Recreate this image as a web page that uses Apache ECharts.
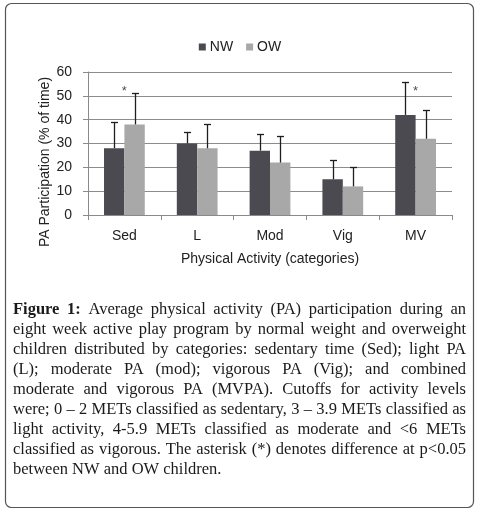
<!DOCTYPE html>
<html>
<head>
<meta charset="utf-8">
<script src="https://cdn.jsdelivr.net/npm/echarts@6.0.0/dist/echarts.min.js"></script>
<style>
    html, body { margin: 0; padding: 0; background: #fff; }
    #main { width: 480px; height: 511px; }
</style>
</head>
<body>
<div id="main"></div>
<script>
// data
var categories = ['Sed', 'L', 'Mod', 'Vig', 'MV'];
var nwValues = [28, 30, 27, 15, 42];
var owValues = [38, 28, 22, 12, 32];
var nwUpper = [39, 35, 34, 23, 56];
var owUpper = [51, 38, 33, 20, 44];
// asterisks (p<0.05)
var starValues = [52, null, null, null, 52];
var yMin = 0, yMax = 60, yStep = 10;

var captionLines = [
    'Figure 1: Average physical activity (PA) participation during an',
    'eight week active play program by normal weight and overweight',
    'children distributed by categories: sedentary time (Sed); light PA',
    '(L); moderate PA (mod); vigorous PA (Vig); and combined',
    'moderate and vigorous PA (MVPA). Cutoffs for activity levels',
    'were; 0 \u2013 2 METs classified as sedentary, 3 \u2013 3.9 METs classified as',
    'light activity, 4-5.9 METs classified as moderate and <6 METs',
    'classified as vigorous. The asterisk (*) denotes difference at p<0.05',
    'between NW and OW children.'
];

var SANS = '"Liberation Sans", Arial, sans-serif';
var SERIF = '"Liberation Serif", "Times New Roman", serif';
var CAP_SIZE = 16.5;

// justified caption, words placed by measured width
var measureCtx = document.createElement('canvas').getContext('2d');
function textWidth(str, bold) {
    measureCtx.font = (bold ? 'bold ' : '') + CAP_SIZE + 'px ' + SERIF;
    return measureCtx.measureText(str).width;
}

function buildCaption(left, right, top, lineGap) {
    var items = [];
    var width = right - left;
    for (var i = 0; i < captionLines.length; i++) {
        var words = captionLines[i].split(' ');
        var isLast = i == captionLines.length - 1;
        var widths = [];
        var total = 0;
        for (var j = 0; j < words.length; j++) {
            var bold = (i == 0 && j < 2);
            widths.push(textWidth(words[j], bold));
            total += widths[j];
        }
        var gap = isLast ? textWidth(' ', false) : (width - total) / (words.length - 1);
        if (gap < 2) gap = 2;
        var x = left;
        for (var j = 0; j < words.length; j++) {
            items.push({
                type: 'text',
                x: x,
                y: top + i * lineGap,
                style: {
                    text: words[j],
                    font: ((i == 0 && j < 2) ? 'bold ' : '') + CAP_SIZE + 'px ' + SERIF,
                    fill: '#1a1a1a',
                    textAlign: 'left',
                    textVerticalAlign: 'middle'
                }
            });
            x += widths[j] + gap;
        }
    }
    return items;
}

// error bar (upper whisker only)
function errorBar(name, values, upper, side) {
    var data = [];
    for (var i = 0; i < categories.length; i++) {
        data.push([i, values[i], upper[i]]);
    }
    return {
        name: name + ' SD',
        type: 'custom',
        z: 10,
        data: data,
        renderItem: function (params, api) {
            var idx = api.value(0);
            var base = api.coord([idx, api.value(1)]);
            var top = api.coord([idx, api.value(2)]);
            var band = api.size([1, 0])[0];
            var cx = Math.round(base[0] + side * band * 0.14) + 0.5;
            var ty = Math.round(top[1]) + 0.5;
            var st = {stroke: '#1e1e1e', lineWidth: 1.3};
            return {
                type: 'group',
                children: [
                    {type: 'line', shape: {x1: cx, y1: base[1], x2: cx, y2: ty}, style: st},
                    {type: 'line', shape: {x1: cx - 3.5, y1: ty, x2: cx + 3.5, y2: ty}, style: st}
                ]
            };
        }
    };
}

var myChart = echarts.init(document.getElementById('main'));

var option = {
    animation: false,
    backgroundColor: '#fff',
    color: ['#4b4a50', '#a8a8a8'],
    legend: {
        data: ['NW', 'OW'],
        left: 'center',
        top: 35,
        itemWidth: 7,
        itemHeight: 7,
        itemGap: 13,
        icon: 'rect',
        textStyle: {fontFamily: SANS, fontSize: 14, color: '#222', padding: [0, 0, 0, -1]}
    },
    grid: {
        left: 88,
        right: 28,
        top: 72,
        bottom: 296,
        containLabel: false,
        outerBoundsMode: 'none'
    },
    xAxis: {
        type: 'category',
        data: categories,
        name: 'Physical Activity (categories)',
        nameLocation: 'middle',
        nameGap: 37,
        nameTextStyle: {fontFamily: SANS, fontSize: 14, color: '#222'},
        axisLine: {lineStyle: {color: '#8a8a8a', width: 1}},
        axisTick: {show: true, length: 5, lineStyle: {color: '#8a8a8a'}},
        axisLabel: {fontFamily: SANS, fontSize: 14, color: '#222', margin: 14}
    },
    yAxis: {
        type: 'value',
        min: yMin,
        max: yMax,
        interval: yStep,
        axisLine: {show: true, lineStyle: {color: '#8a8a8a', width: 1}},
        axisTick: {show: true, length: 5, lineStyle: {color: '#8a8a8a'}},
        axisLabel: {fontFamily: SANS, fontSize: 14, color: '#222', margin: 16},
        splitLine: {lineStyle: {color: '#8c8c8c', width: 1}}
    },
    series: [
        {
            name: 'NW',
            type: 'bar',
            data: nwValues,
            barGap: '0%',
            barCategoryGap: '44%'
        },
        {
            name: 'OW',
            type: 'bar',
            data: owValues,
            barGap: '0%',
            barCategoryGap: '44%'
        },
        errorBar('NW', nwValues, nwUpper, -1),
        errorBar('OW', owValues, owUpper, 1),
        {
            name: 'sig',
            type: 'scatter',
            data: starValues,
            symbolSize: 0,
            z: 11,
            label: {
                show: true,
                position: 'inside',
                formatter: '*',
                fontFamily: SANS,
                fontSize: 13,
                color: '#222'
            }
        }
    ],
    graphic: [
        {
            // outer rounded frame
            type: 'rect',
            shape: {x: 5.5, y: 3.5, width: 468, height: 504, r: 6},
            style: {fill: null, stroke: '#555', lineWidth: 1.2},
            silent: true
        },
        {
            type: 'text',
            x: 45,
            y: 162,
            rotation: Math.PI / 2,
            style: {
                text: 'PA Participation (% of time)',
                font: '14px ' + SANS,
                fill: '#222',
                textAlign: 'center',
                textVerticalAlign: 'middle'
            }
        },
        {
            type: 'group',
            children: buildCaption(13, 466, 310, 20)
        }
    ]
};

// 使用配置项显示图表
myChart.setOption(option);
</script>
</body>
</html>
